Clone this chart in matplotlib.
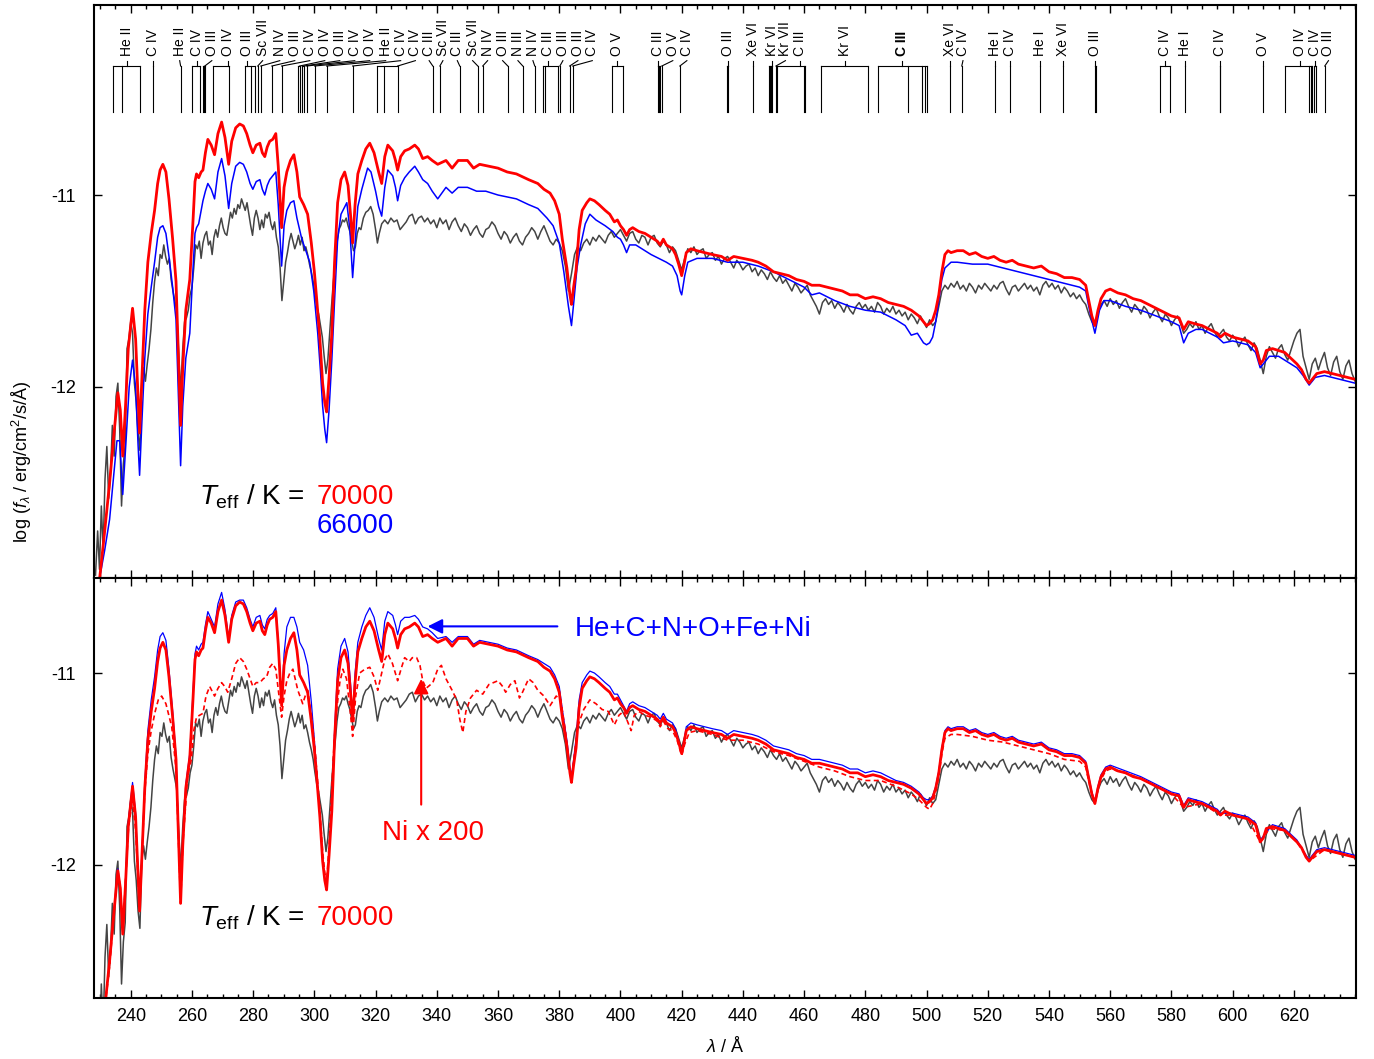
import matplotlib.pyplot as plt
from matplotlib.ticker import MultipleLocator, FixedLocator

plt.rcParams['font.family'] = ['Liberation Sans', 'DejaVu Sans']
plt.rcParams['mathtext.fontset'] = 'custom'
plt.rcParams['mathtext.rm'] = 'Liberation Sans'
plt.rcParams['mathtext.it'] = 'Liberation Sans:italic'
plt.rcParams['mathtext.bf'] = 'Liberation Sans:bold'
plt.rcParams['axes.unicode_minus'] = False

# observed EUV spectrum (wavelength / A, log flux)
obs = [
    (228.5, -12.98), (229.2, -12.75), (229.8, -12.95), (230.4, -12.62), (231.0, -12.85),
    (231.6, -12.48), (232.2, -12.31), (232.8, -12.58), (233.4, -12.45), (234.0, -12.20),
    (234.6, -12.36), (235.2, -12.05), (235.8, -11.98), (236.4, -12.22), (237.0, -12.62),
    (237.6, -12.40), (238.2, -12.30), (238.8, -11.80), (239.4, -11.75), (240.0, -11.66),
    (240.6, -11.72), (241.2, -11.98), (241.8, -12.08), (242.4, -12.24), (243.0, -12.33),
    (243.6, -11.98), (244.2, -11.90), (244.8, -11.97), (245.4, -11.88), (246.0, -11.80),
    (246.6, -11.70), (247.2, -11.56), (247.8, -11.45), (248.4, -11.38), (249.0, -11.42),
    (249.6, -11.31), (250.2, -11.33), (250.8, -11.26), (251.4, -11.32), (252.0, -11.36),
    (252.6, -11.33), (253.2, -11.44), (253.8, -11.50), (254.4, -11.55), (255.0, -11.60),
    (255.6, -11.80), (256.3, -12.03), (257.0, -11.80), (257.6, -11.66), (258.2, -11.64),
    (258.8, -11.60), (259.4, -11.52), (260.0, -11.48), (260.6, -11.38), (261.2, -11.26),
    (261.8, -11.28), (262.4, -11.24), (263.0, -11.33), (263.6, -11.25), (264.2, -11.21),
    (264.8, -11.19), (265.4, -11.26), (266.0, -11.24), (266.6, -11.31), (267.2, -11.22),
    (267.8, -11.18), (268.4, -11.22), (269.0, -11.16), (269.6, -11.12), (270.2, -11.17),
    (270.8, -11.20), (271.4, -11.21), (272.0, -11.15), (272.6, -11.09), (273.2, -11.12),
    (273.8, -11.07), (274.4, -11.10), (275.0, -11.05), (275.6, -11.07), (276.2, -11.02),
    (276.8, -11.05), (277.4, -11.08), (278.0, -11.04), (278.6, -11.10), (279.2, -11.16),
    (279.8, -11.21), (280.4, -11.12), (281.0, -11.08), (281.6, -11.12), (282.2, -11.18),
    (282.8, -11.13), (283.4, -11.17), (284.0, -11.10), (284.6, -11.12), (285.2, -11.09),
    (285.8, -11.15), (286.4, -11.18), (287.0, -11.14), (287.6, -11.22), (288.2, -11.27),
    (288.8, -11.38), (289.4, -11.55), (290.0, -11.45), (290.6, -11.35), (291.2, -11.30),
    (291.8, -11.24), (292.4, -11.20), (293.0, -11.24), (293.6, -11.28), (294.2, -11.25),
    (294.8, -11.21), (295.4, -11.26), (296.0, -11.22), (296.6, -11.29), (297.2, -11.27),
    (297.8, -11.31), (298.4, -11.36), (299.0, -11.40), (299.6, -11.45), (300.2, -11.52),
    (300.8, -11.58), (301.4, -11.62), (302.0, -11.68), (302.6, -11.74), (303.2, -11.84),
    (303.8, -11.93), (304.4, -11.86), (305.0, -11.72), (305.6, -11.58), (306.2, -11.45),
    (306.8, -11.36), (307.4, -11.25), (308.0, -11.18), (308.6, -11.16), (309.2, -11.13),
    (309.8, -11.14), (310.4, -11.12), (311.0, -11.16), (311.6, -11.19), (312.2, -11.24),
    (312.8, -11.29), (313.4, -11.27), (314.0, -11.20), (314.6, -11.17), (315.2, -11.18),
    (316.0, -11.12), (316.8, -11.09), (317.6, -11.08), (318.4, -11.06), (319.2, -11.10),
    (320.0, -11.18), (320.6, -11.25), (321.2, -11.20), (322.0, -11.15), (323.0, -11.13),
    (324.0, -11.15), (325.0, -11.12), (326.0, -11.14), (327.0, -11.13), (328.0, -11.18),
    (329.0, -11.16), (330.0, -11.14), (331.0, -11.11), (332.0, -11.10), (333.0, -11.15),
    (334.0, -11.12), (335.0, -11.11), (336.0, -11.14), (337.0, -11.12), (338.0, -11.15),
    (339.0, -11.13), (340.0, -11.17), (341.0, -11.12), (342.0, -11.15), (343.0, -11.13),
    (344.0, -11.18), (345.0, -11.14), (346.0, -11.12), (347.0, -11.16), (348.0, -11.19),
    (349.0, -11.15), (350.0, -11.17), (351.0, -11.21), (352.0, -11.18), (353.0, -11.16),
    (354.0, -11.20), (355.0, -11.22), (356.0, -11.18), (357.0, -11.17), (358.0, -11.14),
    (359.0, -11.16), (360.0, -11.20), (361.0, -11.23), (362.0, -11.19), (363.0, -11.21),
    (364.0, -11.25), (365.0, -11.22), (366.0, -11.20), (367.0, -11.24), (368.0, -11.26),
    (369.0, -11.22), (370.0, -11.20), (371.0, -11.17), (372.0, -11.19), (373.0, -11.23),
    (374.0, -11.19), (375.0, -11.16), (376.0, -11.20), (377.0, -11.24), (378.0, -11.26),
    (379.0, -11.23), (380.0, -11.25), (381.0, -11.29), (382.0, -11.37), (383.0, -11.50),
    (384.0, -11.41), (385.0, -11.31), (386.0, -11.27), (387.0, -11.29), (388.0, -11.25),
    (389.0, -11.23), (390.0, -11.26), (391.0, -11.22), (392.0, -11.24), (393.0, -11.21),
    (394.0, -11.23), (395.0, -11.25), (396.0, -11.21), (397.0, -11.19), (398.0, -11.22),
    (399.0, -11.20), (400.0, -11.18), (401.0, -11.21), (402.0, -11.24), (403.0, -11.20),
    (404.0, -11.19), (405.0, -11.23), (406.0, -11.25), (407.0, -11.21), (408.0, -11.22),
    (409.0, -11.26), (410.0, -11.22), (411.0, -11.21), (412.0, -11.25), (413.0, -11.27),
    (414.0, -11.24), (415.0, -11.26), (416.0, -11.30), (417.0, -11.27), (418.0, -11.29),
    (419.0, -11.34), (420.0, -11.39), (421.0, -11.33), (422.0, -11.28), (423.0, -11.30),
    (424.0, -11.27), (425.0, -11.31), (426.0, -11.29), (427.0, -11.28), (428.0, -11.33),
    (429.0, -11.31), (430.0, -11.30), (431.0, -11.34), (432.0, -11.32), (433.0, -11.36),
    (434.0, -11.33), (435.0, -11.32), (436.0, -11.35), (437.0, -11.38), (438.0, -11.34),
    (439.0, -11.36), (440.0, -11.39), (441.0, -11.37), (442.0, -11.36), (443.0, -11.40),
    (444.0, -11.38), (445.0, -11.42), (446.0, -11.39), (447.0, -11.41), (448.0, -11.44),
    (449.0, -11.40), (450.0, -11.43), (451.0, -11.45), (452.0, -11.42), (453.0, -11.46),
    (454.0, -11.44), (455.0, -11.47), (456.0, -11.50), (457.0, -11.46), (458.0, -11.48),
    (459.0, -11.51), (460.0, -11.49), (461.0, -11.47), (462.0, -11.52), (463.0, -11.55),
    (464.0, -11.58), (465.0, -11.62), (466.0, -11.56), (467.0, -11.54), (468.0, -11.57),
    (469.0, -11.55), (470.0, -11.59), (471.0, -11.56), (472.0, -11.58), (473.0, -11.61),
    (474.0, -11.57), (475.0, -11.60), (476.0, -11.62), (477.0, -11.58), (478.0, -11.56),
    (479.0, -11.59), (480.0, -11.57), (481.0, -11.60), (482.0, -11.58), (483.0, -11.61),
    (484.0, -11.56), (485.0, -11.58), (486.0, -11.62), (487.0, -11.59), (488.0, -11.61),
    (489.0, -11.58), (490.0, -11.62), (491.0, -11.60), (492.0, -11.63), (493.0, -11.61),
    (494.0, -11.65), (495.0, -11.62), (496.0, -11.64), (497.0, -11.67), (498.0, -11.63),
    (499.0, -11.66), (500.0, -11.69), (501.0, -11.65), (502.0, -11.68), (503.0, -11.66),
    (504.0, -11.58), (505.0, -11.50), (506.0, -11.47), (507.0, -11.49), (508.0, -11.46),
    (509.0, -11.48), (510.0, -11.45), (511.0, -11.49), (512.0, -11.47), (513.0, -11.50),
    (514.0, -11.46), (515.0, -11.48), (516.0, -11.51), (517.0, -11.47), (518.0, -11.49),
    (519.0, -11.46), (520.0, -11.48), (521.0, -11.50), (522.0, -11.47), (523.0, -11.49),
    (524.0, -11.46), (525.0, -11.45), (526.0, -11.49), (527.0, -11.52), (528.0, -11.48),
    (529.0, -11.47), (530.0, -11.50), (531.0, -11.48), (532.0, -11.46), (533.0, -11.49),
    (534.0, -11.47), (535.0, -11.50), (536.0, -11.48), (537.0, -11.52), (538.0, -11.47),
    (539.0, -11.45), (540.0, -11.48), (541.0, -11.46), (542.0, -11.49), (543.0, -11.47),
    (544.0, -11.51), (545.0, -11.48), (546.0, -11.50), (547.0, -11.53), (548.0, -11.51),
    (549.0, -11.54), (550.0, -11.52), (551.0, -11.55), (552.0, -11.57), (553.0, -11.62),
    (554.0, -11.66), (555.0, -11.68), (556.0, -11.61), (557.0, -11.57), (558.0, -11.55),
    (559.0, -11.58), (560.0, -11.54), (561.0, -11.57), (562.0, -11.55), (563.0, -11.59),
    (564.0, -11.56), (565.0, -11.54), (566.0, -11.58), (567.0, -11.61), (568.0, -11.57),
    (569.0, -11.59), (570.0, -11.62), (571.0, -11.58), (572.0, -11.60), (573.0, -11.64),
    (574.0, -11.61), (575.0, -11.59), (576.0, -11.63), (577.0, -11.66), (578.0, -11.62),
    (579.0, -11.64), (580.0, -11.68), (581.0, -11.65), (582.0, -11.63), (583.0, -11.67),
    (584.0, -11.72), (585.0, -11.70), (586.0, -11.67), (587.0, -11.69), (588.0, -11.66),
    (589.0, -11.70), (590.0, -11.68), (591.0, -11.72), (592.0, -11.69), (593.0, -11.67),
    (594.0, -11.71), (595.0, -11.74), (596.0, -11.72), (597.0, -11.70), (598.0, -11.74),
    (599.0, -11.76), (600.0, -11.73), (601.0, -11.75), (602.0, -11.79), (603.0, -11.76),
    (604.0, -11.74), (605.0, -11.78), (606.0, -11.81), (607.0, -11.77), (608.0, -11.80),
    (609.0, -11.86), (610.0, -11.93), (611.0, -11.84), (612.0, -11.79), (613.0, -11.82),
    (614.0, -11.85), (615.0, -11.80), (616.0, -11.78), (617.0, -11.83), (618.0, -11.86),
    (619.0, -11.81), (620.0, -11.76), (621.0, -11.72), (622.0, -11.70), (623.0, -11.84),
    (624.0, -11.90), (625.0, -11.96), (626.0, -11.88), (627.0, -11.85), (628.0, -11.91),
    (629.0, -11.86), (630.0, -11.82), (631.0, -11.90), (632.0, -11.94), (633.0, -11.87),
    (634.0, -11.84), (635.0, -11.92), (636.0, -11.96), (637.0, -11.89), (638.0, -11.86),
    (639.0, -11.93), (640.0, -11.97),
]

# model, Teff = 70000 K
t70 = [
    (229.9, -12.99), (231.5, -12.75), (233.1, -12.50), (234.5, -12.25), (235.8, -12.03),
    (236.6, -12.12), (237.4, -12.36), (238.3, -12.10), (239.2, -11.80), (240.6, -11.59),
    (241.6, -11.75), (242.4, -12.05), (242.9, -12.24), (243.6, -11.98), (244.6, -11.60),
    (245.6, -11.35), (246.7, -11.20), (247.8, -11.08), (248.8, -10.94), (249.6, -10.87),
    (250.5, -10.84), (251.5, -10.88), (252.5, -11.02), (253.7, -11.23), (254.8, -11.45),
    (255.6, -11.85), (256.3, -12.20), (257.0, -11.90), (258.0, -11.60), (259.3, -11.44),
    (260.3, -11.15), (261.0, -10.93), (261.5, -10.89), (262.2, -10.91), (263.0, -10.88),
    (263.6, -10.87), (264.4, -10.78), (265.2, -10.71), (266.3, -10.74), (267.4, -10.79),
    (268.5, -10.68), (269.7, -10.62), (270.8, -10.70), (272.0, -10.84), (273.0, -10.72),
    (274.3, -10.65), (275.6, -10.63), (276.8, -10.64), (277.9, -10.68), (279.0, -10.74),
    (279.9, -10.78), (281.0, -10.74), (282.2, -10.73), (283.0, -10.78), (283.8, -10.80),
    (284.6, -10.75), (285.4, -10.72), (286.4, -10.71), (287.4, -10.68), (288.2, -10.85),
    (289.3, -11.17), (290.1, -10.96), (291.0, -10.88), (292.2, -10.82), (293.3, -10.79),
    (294.3, -10.88), (295.2, -11.01), (296.5, -11.05), (297.8, -11.10), (299.0, -11.25),
    (300.0, -11.40), (300.8, -11.55), (301.8, -11.75), (302.7, -11.98), (303.4, -12.08),
    (304.0, -12.13), (304.8, -11.95), (305.7, -11.72), (306.6, -11.35), (307.6, -11.04),
    (308.7, -10.92), (309.9, -10.88), (311.0, -10.95), (311.8, -11.10), (312.5, -11.25),
    (313.3, -11.05), (314.2, -10.89), (315.5, -10.82), (316.8, -10.76), (318.1, -10.73),
    (319.5, -10.78), (321.0, -10.88), (322.0, -10.94), (323.0, -10.80), (324.0, -10.74),
    (325.6, -10.77), (326.5, -10.82), (327.2, -10.87), (328.2, -10.80), (329.5, -10.77),
    (331.0, -10.76), (332.8, -10.74), (334.0, -10.76), (335.4, -10.81), (337.0, -10.80),
    (338.5, -10.82), (340.3, -10.84), (343.0, -10.82), (345.0, -10.86), (347.0, -10.82),
    (350.0, -10.82), (352.0, -10.86), (354.0, -10.84), (357.0, -10.85), (360.0, -10.86),
    (363.0, -10.88), (366.0, -10.89), (370.0, -10.92), (373.0, -10.94), (375.0, -10.97),
    (377.0, -10.99), (378.5, -11.03), (380.0, -11.10), (381.0, -11.23), (382.5, -11.38),
    (383.5, -11.52), (384.0, -11.57), (384.7, -11.48), (385.5, -11.39), (386.5, -11.18),
    (387.5, -11.08), (389.0, -11.04), (390.0, -11.02), (391.5, -11.03), (393.0, -11.05),
    (395.0, -11.08), (396.5, -11.10), (398.0, -11.14), (399.0, -11.13), (400.0, -11.16),
    (401.0, -11.18), (402.0, -11.21), (403.0, -11.18), (404.0, -11.17), (406.0, -11.19),
    (408.0, -11.20), (410.0, -11.22), (412.0, -11.24), (413.0, -11.26), (414.0, -11.23),
    (415.0, -11.26), (417.0, -11.28), (418.0, -11.31), (419.0, -11.36), (420.0, -11.42),
    (420.8, -11.36), (421.5, -11.30), (423.0, -11.28), (425.0, -11.29), (427.5, -11.30),
    (430.0, -11.31), (433.0, -11.32), (435.0, -11.34), (437.0, -11.32), (440.0, -11.33),
    (443.0, -11.34), (445.0, -11.35), (447.5, -11.37), (450.0, -11.40), (452.5, -11.41),
    (455.0, -11.42), (457.5, -11.44), (460.0, -11.45), (462.5, -11.47), (465.0, -11.47),
    (467.5, -11.48), (470.0, -11.49), (472.5, -11.50), (475.0, -11.52), (477.5, -11.52),
    (480.0, -11.54), (482.5, -11.53), (485.0, -11.54), (487.5, -11.56), (490.0, -11.57),
    (492.5, -11.58), (495.0, -11.60), (497.5, -11.63), (499.0, -11.66), (500.0, -11.68),
    (501.0, -11.67), (502.0, -11.65), (503.0, -11.60), (504.0, -11.52), (505.0, -11.40),
    (506.0, -11.31), (507.0, -11.29), (508.0, -11.30), (510.0, -11.29), (512.0, -11.29),
    (514.0, -11.31), (516.0, -11.30), (518.0, -11.32), (520.0, -11.33), (522.0, -11.32),
    (524.0, -11.34), (526.0, -11.35), (528.0, -11.34), (530.0, -11.36), (532.5, -11.37),
    (535.0, -11.38), (537.5, -11.37), (540.0, -11.40), (542.5, -11.41), (545.0, -11.43),
    (547.5, -11.43), (550.0, -11.44), (552.0, -11.47), (553.0, -11.55), (554.0, -11.63),
    (555.0, -11.68), (556.0, -11.60), (557.0, -11.54), (558.5, -11.50), (560.0, -11.49),
    (562.5, -11.51), (565.0, -11.52), (567.5, -11.54), (570.0, -11.55), (572.5, -11.57),
    (575.0, -11.59), (577.5, -11.61), (580.0, -11.63), (582.5, -11.64), (584.0, -11.70),
    (585.5, -11.66), (587.5, -11.67), (590.0, -11.68), (592.5, -11.70), (595.0, -11.72),
    (596.0, -11.74), (597.5, -11.72), (600.0, -11.74), (602.5, -11.75), (605.0, -11.76),
    (607.5, -11.79), (609.0, -11.88), (610.0, -11.86), (611.0, -11.81), (613.0, -11.80),
    (615.0, -11.81), (617.0, -11.82), (619.0, -11.85), (621.0, -11.88), (622.5, -11.91),
    (624.0, -11.96), (625.0, -11.98), (626.0, -11.96), (627.5, -11.93), (630.0, -11.92),
    (632.5, -11.93), (635.0, -11.94), (637.5, -11.95), (640.0, -11.96),
]

# model, Teff = 66000 K
t66 = [
    (229.9, -12.99), (231.5, -12.85), (233.1, -12.69), (234.5, -12.45), (235.5, -12.28),
    (236.4, -12.28), (237.4, -12.56), (238.4, -12.30), (239.5, -12.00), (240.6, -11.86),
    (241.6, -12.00), (242.4, -12.30), (242.9, -12.46), (243.6, -12.20), (244.6, -11.85),
    (245.6, -11.62), (246.7, -11.48), (247.8, -11.35), (248.8, -11.22), (249.6, -11.17),
    (250.5, -11.16), (251.5, -11.20), (252.5, -11.32), (253.7, -11.48), (254.8, -11.65),
    (255.6, -12.05), (256.3, -12.41), (257.0, -12.10), (258.0, -11.85), (259.3, -11.72),
    (260.3, -11.40), (261.0, -11.20), (261.5, -11.17), (262.2, -11.15), (263.0, -11.08),
    (263.6, -11.03), (264.4, -10.98), (265.2, -10.94), (266.3, -10.97), (267.4, -11.02),
    (268.5, -10.88), (269.7, -10.81), (270.8, -10.90), (272.0, -11.07), (273.0, -10.94),
    (274.3, -10.85), (275.6, -10.83), (276.8, -10.84), (277.9, -10.88), (279.0, -10.94),
    (279.9, -10.97), (281.0, -10.93), (282.2, -10.92), (283.0, -10.97), (283.8, -11.00),
    (284.6, -10.95), (285.4, -10.92), (286.4, -10.90), (287.4, -10.88), (288.2, -11.05),
    (289.3, -11.37), (290.1, -11.16), (291.0, -11.08), (292.2, -11.04), (293.3, -11.03),
    (294.3, -11.12), (295.9, -11.23), (297.0, -11.28), (298.5, -11.35), (299.8, -11.50),
    (301.1, -11.72), (302.0, -11.92), (302.7, -12.10), (303.4, -12.22), (304.0, -12.29),
    (304.8, -12.12), (305.7, -11.86), (306.6, -11.55), (307.6, -11.23), (308.7, -11.10),
    (310.6, -11.04), (311.6, -11.18), (312.5, -11.43), (313.3, -11.25), (314.2, -11.06),
    (315.5, -10.97), (317.4, -10.86), (318.5, -10.88), (320.0, -10.98), (321.0, -11.06),
    (322.0, -11.11), (323.0, -10.96), (324.0, -10.87), (325.6, -10.90), (326.5, -10.96),
    (327.2, -11.03), (328.2, -10.95), (329.5, -10.91), (331.0, -10.88), (332.8, -10.85),
    (334.0, -10.88), (335.4, -10.92), (337.0, -10.94), (338.5, -10.98), (340.3, -11.02),
    (343.0, -10.96), (345.0, -10.99), (347.0, -10.96), (350.0, -10.96), (353.0, -10.98),
    (356.0, -10.98), (360.0, -11.00), (363.0, -11.01), (366.0, -11.02), (370.0, -11.05),
    (373.0, -11.07), (376.0, -11.12), (378.0, -11.16), (380.0, -11.25), (381.5, -11.40),
    (383.0, -11.58), (384.0, -11.68), (384.8, -11.55), (385.8, -11.38), (387.0, -11.26),
    (388.5, -11.15), (390.0, -11.10), (392.0, -11.13), (395.0, -11.16), (397.5, -11.19),
    (399.0, -11.22), (400.0, -11.23), (401.0, -11.26), (402.0, -11.30), (403.0, -11.26),
    (405.0, -11.26), (408.0, -11.29), (410.0, -11.31), (412.5, -11.33), (415.0, -11.35),
    (417.0, -11.37), (418.5, -11.42), (419.5, -11.50), (420.0, -11.52), (421.0, -11.42),
    (422.0, -11.35), (425.0, -11.33), (430.0, -11.33), (435.0, -11.35), (440.0, -11.35),
    (445.0, -11.37), (450.0, -11.40), (455.0, -11.44), (460.0, -11.48), (462.5, -11.52),
    (465.0, -11.51), (470.0, -11.55), (475.0, -11.58), (480.0, -11.60), (485.0, -11.61),
    (490.0, -11.65), (493.0, -11.68), (495.0, -11.73), (497.0, -11.72), (499.0, -11.77),
    (500.0, -11.78), (501.0, -11.77), (502.0, -11.74), (503.0, -11.66), (504.0, -11.55),
    (505.0, -11.44), (506.0, -11.38), (508.0, -11.35), (510.0, -11.35), (515.0, -11.36),
    (520.0, -11.36), (525.0, -11.38), (530.0, -11.40), (535.0, -11.42), (540.0, -11.44),
    (545.0, -11.46), (550.0, -11.48), (552.0, -11.50), (553.5, -11.62), (555.0, -11.72),
    (556.5, -11.60), (558.0, -11.55), (560.0, -11.55), (565.0, -11.58), (570.0, -11.60),
    (575.0, -11.63), (580.0, -11.66), (582.5, -11.68), (584.0, -11.77), (585.5, -11.72),
    (588.0, -11.70), (590.0, -11.70), (595.0, -11.74), (597.0, -11.77), (600.0, -11.76),
    (605.0, -11.78), (607.5, -11.82), (609.0, -11.90), (610.5, -11.87), (612.0, -11.84),
    (615.0, -11.84), (618.0, -11.87), (621.0, -11.90), (623.0, -11.94), (625.0, -11.99),
    (627.0, -11.95), (630.0, -11.94), (635.0, -11.96), (640.0, -11.98),
]

# model with He+C+N+O+Fe+Ni, Teff = 70000 K
full = [
    (229.9, -12.99), (231.5, -12.75), (233.1, -12.50), (234.5, -12.25), (235.8, -12.02),
    (236.6, -12.12), (237.4, -12.35), (238.3, -12.08), (239.2, -11.78), (240.6, -11.57),
    (241.6, -11.73), (242.4, -12.04), (242.9, -12.22), (243.6, -11.96), (244.6, -11.57),
    (245.6, -11.30), (246.7, -11.14), (247.8, -11.02), (248.8, -10.88), (249.6, -10.81),
    (250.5, -10.79), (251.5, -10.83), (252.5, -10.98), (253.7, -11.20), (254.8, -11.43),
    (255.6, -11.83), (256.3, -12.18), (257.0, -11.88), (258.0, -11.58), (259.3, -11.42),
    (260.3, -11.12), (261.0, -10.90), (261.5, -10.86), (262.2, -10.88), (263.0, -10.85),
    (263.6, -10.84), (264.4, -10.75), (265.2, -10.68), (266.3, -10.72), (267.4, -10.76),
    (268.5, -10.64), (269.7, -10.58), (270.8, -10.67), (272.0, -10.82), (273.0, -10.70),
    (274.3, -10.63), (275.6, -10.62), (276.8, -10.62), (277.9, -10.66), (279.0, -10.72),
    (279.9, -10.76), (281.0, -10.71), (282.2, -10.70), (283.0, -10.75), (283.8, -10.77),
    (284.6, -10.72), (285.4, -10.70), (286.4, -10.69), (287.4, -10.66), (288.2, -10.84),
    (289.3, -11.16), (290.1, -10.90), (291.0, -10.76), (292.2, -10.71), (293.3, -10.71),
    (294.3, -10.76), (295.2, -10.84), (296.5, -10.88), (297.8, -10.96), (299.0, -11.15),
    (300.0, -11.35), (300.8, -11.52), (301.8, -11.74), (302.7, -11.97), (303.4, -12.07),
    (304.0, -12.12), (304.8, -11.94), (305.7, -11.70), (306.6, -11.30), (307.6, -10.98),
    (308.7, -10.86), (309.9, -10.82), (311.0, -10.89), (311.8, -11.05), (312.5, -11.22),
    (313.3, -11.00), (314.2, -10.84), (315.5, -10.76), (316.8, -10.70), (318.1, -10.66),
    (319.5, -10.71), (321.0, -10.82), (322.0, -10.88), (323.0, -10.73), (324.0, -10.68),
    (325.6, -10.70), (326.5, -10.75), (327.2, -10.80), (328.2, -10.73), (329.5, -10.71),
    (331.0, -10.71), (332.8, -10.70), (334.0, -10.72), (335.4, -10.76), (337.0, -10.77),
    (338.5, -10.79), (340.3, -10.82), (343.0, -10.81), (345.0, -10.84), (347.0, -10.81),
    (350.0, -10.81), (352.0, -10.85), (354.0, -10.83), (357.0, -10.84), (360.0, -10.85),
    (363.0, -10.87), (366.0, -10.88), (370.0, -10.91), (373.0, -10.93), (375.0, -10.95),
    (377.0, -10.97), (378.5, -11.01), (380.0, -11.07), (381.0, -11.19), (382.5, -11.35),
    (383.5, -11.49), (384.0, -11.54), (384.7, -11.45), (385.5, -11.34), (386.5, -11.14),
    (387.5, -11.05), (389.0, -11.01), (390.0, -10.99), (391.5, -11.00), (393.0, -11.02),
    (395.0, -11.05), (396.5, -11.07), (398.0, -11.11), (399.0, -11.11), (400.0, -11.14),
    (401.0, -11.17), (402.0, -11.20), (403.0, -11.16), (404.0, -11.15), (406.0, -11.17),
    (408.0, -11.18), (410.0, -11.20), (412.0, -11.22), (413.0, -11.24), (414.0, -11.21),
    (415.0, -11.24), (417.0, -11.26), (418.0, -11.29), (419.0, -11.35), (420.0, -11.41),
    (420.8, -11.35), (421.5, -11.28), (423.0, -11.26), (425.0, -11.27), (427.5, -11.28),
    (430.0, -11.29), (433.0, -11.30), (435.0, -11.32), (437.0, -11.30), (440.0, -11.31),
    (443.0, -11.32), (445.0, -11.33), (447.5, -11.35), (450.0, -11.38), (452.5, -11.39),
    (455.0, -11.40), (457.5, -11.42), (460.0, -11.43), (462.5, -11.45), (465.0, -11.45),
    (467.5, -11.46), (470.0, -11.47), (472.5, -11.48), (475.0, -11.50), (477.5, -11.50),
    (480.0, -11.52), (482.5, -11.51), (485.0, -11.52), (487.5, -11.54), (490.0, -11.56),
    (492.5, -11.57), (495.0, -11.59), (497.5, -11.62), (499.0, -11.65), (500.0, -11.66),
    (501.0, -11.66), (502.0, -11.64), (503.0, -11.59), (504.0, -11.51), (505.0, -11.39),
    (506.0, -11.30), (507.0, -11.28), (508.0, -11.29), (510.0, -11.28), (512.0, -11.28),
    (514.0, -11.30), (516.0, -11.29), (518.0, -11.31), (520.0, -11.32), (522.0, -11.31),
    (524.0, -11.33), (526.0, -11.34), (528.0, -11.33), (530.0, -11.35), (532.5, -11.36),
    (535.0, -11.37), (537.5, -11.36), (540.0, -11.39), (542.5, -11.40), (545.0, -11.42),
    (547.5, -11.42), (550.0, -11.43), (552.0, -11.46), (553.0, -11.54), (554.0, -11.62),
    (555.0, -11.67), (556.0, -11.59), (557.0, -11.53), (558.5, -11.49), (560.0, -11.48),
    (565.0, -11.51), (570.0, -11.54), (575.0, -11.58), (580.0, -11.62), (582.5, -11.63),
    (584.0, -11.69), (585.5, -11.65), (590.0, -11.67), (595.0, -11.71), (596.0, -11.73),
    (600.0, -11.73), (605.0, -11.75), (607.5, -11.78), (609.0, -11.87), (610.0, -11.85),
    (613.0, -11.79), (617.0, -11.81), (621.0, -11.87), (624.0, -11.95), (625.0, -11.97),
    (627.5, -11.92), (630.0, -11.91), (635.0, -11.93), (640.0, -11.95),
]

# same model with Ni abundance x 200
ni200 = [
    (229.9, -12.99), (231.5, -12.75), (233.1, -12.53), (234.5, -12.25), (235.8, -12.03),
    (236.6, -12.12), (237.4, -12.34), (238.3, -12.08), (239.3, -11.80), (240.6, -11.66),
    (241.6, -11.82), (242.4, -12.08), (242.9, -12.23), (243.6, -11.98), (244.6, -11.62),
    (245.6, -11.42), (246.7, -11.30), (248.0, -11.20), (249.0, -11.14), (250.1, -11.12),
    (251.5, -11.16), (253.4, -11.28), (254.8, -11.50), (255.6, -11.88), (256.3, -12.20),
    (257.0, -11.90), (258.6, -11.54), (259.8, -11.45), (260.6, -11.30), (261.5, -11.23),
    (262.5, -11.22), (263.6, -11.21), (264.6, -11.12), (265.8, -11.07), (267.4, -11.12),
    (268.5, -11.08), (269.7, -11.05), (270.7, -11.07), (271.7, -11.10), (273.0, -11.03),
    (274.3, -10.95), (275.6, -10.92), (276.8, -10.94), (277.9, -10.98), (279.0, -11.03),
    (279.9, -11.07), (281.0, -11.05), (282.2, -11.05), (283.3, -11.03), (284.4, -11.02),
    (285.4, -10.97), (286.4, -10.95), (287.4, -10.98), (288.3, -11.10), (289.3, -11.23),
    (290.1, -11.12), (291.0, -11.04), (292.0, -11.00), (293.0, -10.98), (294.0, -11.05),
    (294.6, -11.09), (295.5, -11.13), (296.2, -11.16), (297.0, -11.12), (297.8, -11.09),
    (299.0, -11.22), (300.0, -11.36), (300.8, -11.51), (301.8, -11.72), (302.7, -11.93),
    (303.4, -12.04), (304.0, -12.09), (304.8, -11.90), (305.7, -11.60), (306.5, -11.35),
    (307.3, -11.19), (308.3, -11.05), (309.3, -10.98), (310.5, -11.03), (311.6, -11.18),
    (312.5, -11.33), (313.5, -11.12), (314.8, -11.00), (316.5, -10.98), (318.1, -10.97),
    (319.5, -11.02), (320.7, -11.09), (322.0, -11.00), (323.0, -10.93), (324.0, -10.90),
    (325.5, -10.95), (327.2, -11.04), (328.5, -10.97), (329.5, -10.92), (331.0, -10.94),
    (332.0, -10.92), (333.4, -10.92), (334.5, -10.96), (335.4, -11.04), (336.5, -11.08),
    (338.7, -11.05), (340.3, -10.98), (341.5, -10.96), (343.0, -11.03), (345.0, -11.09),
    (346.5, -11.14), (347.5, -11.24), (348.5, -11.31), (349.5, -11.20), (351.0, -11.13),
    (353.0, -11.09), (355.0, -11.11), (357.0, -11.06), (360.0, -11.04), (361.5, -11.07),
    (362.5, -11.10), (364.0, -11.06), (365.5, -11.04), (367.0, -11.13), (368.0, -11.10),
    (370.0, -11.03), (371.5, -11.05), (373.0, -11.09), (375.0, -11.12), (377.0, -11.17),
    (379.0, -11.12), (380.5, -11.14), (382.0, -11.30), (383.2, -11.48), (384.0, -11.55),
    (384.8, -11.45), (386.0, -11.28), (388.0, -11.19), (390.0, -11.14), (392.0, -11.16),
    (394.0, -11.19), (396.0, -11.20), (398.0, -11.27), (399.5, -11.22), (401.0, -11.20),
    (402.5, -11.26), (403.5, -11.30), (404.5, -11.22), (406.0, -11.20), (408.0, -11.22),
    (410.0, -11.23), (412.0, -11.25), (413.0, -11.28), (414.0, -11.25), (415.5, -11.29),
    (417.0, -11.30), (418.5, -11.35), (420.0, -11.43), (421.0, -11.37), (422.5, -11.31),
    (425.0, -11.30), (430.0, -11.32), (435.0, -11.35), (440.0, -11.35), (445.0, -11.37),
    (450.0, -11.41), (455.0, -11.43), (460.0, -11.46), (465.0, -11.49), (470.0, -11.51),
    (475.0, -11.54), (480.0, -11.56), (485.0, -11.56), (490.0, -11.59), (495.0, -11.63),
    (497.5, -11.66), (500.0, -11.70), (501.0, -11.71), (502.0, -11.68), (503.0, -11.62),
    (504.0, -11.54), (505.0, -11.42), (506.0, -11.34), (508.0, -11.32), (510.0, -11.32),
    (515.0, -11.33), (520.0, -11.35), (525.0, -11.36), (530.0, -11.38), (535.0, -11.40),
    (540.0, -11.42), (545.0, -11.45), (550.0, -11.46), (552.0, -11.49), (553.5, -11.60),
    (555.0, -11.68), (556.5, -11.57), (558.5, -11.51), (560.0, -11.50), (565.0, -11.52),
    (570.0, -11.55), (575.0, -11.59), (580.0, -11.63), (584.0, -11.70), (590.0, -11.68),
    (596.0, -11.74), (600.0, -11.74), (605.0, -11.76), (609.0, -11.88), (612.0, -11.81),
    (617.0, -11.82), (621.0, -11.88), (625.0, -11.98), (630.0, -11.92), (635.0, -11.94),
    (640.0, -11.96),
]

# line identifications: ion, label position and line wavelengths (A)
id_names = [
    'He II', 'C IV', 'He II', 'C IV', 'O III', 'O IV', 'O III', 'Sc VII', 'N IV', 'O III',
    'C IV', 'O IV', 'O III', 'C IV', 'O IV', 'He II', 'C IV', 'C IV', 'C III', 'Sc VII',
    'C III', 'Sc VII', 'N IV', 'O III', 'N III', 'N IV', 'C III', 'O III', 'O III', 'C IV',
    'O V', 'C III', 'O V', 'C IV', 'O III', 'Xe VI', 'Kr VI', 'Kr VII', 'C III', 'Kr VI',
    'C III', 'Xe VI', 'C IV', 'He I', 'C IV', 'He I', 'Xe VI', 'O III', 'C IV', 'He I',
    'C IV', 'O V', 'O IV', 'C IV', 'O III',
]
id_label_wave = [
    238.7, 247.2, 256.0, 261.6, 266.5, 271.7, 277.9, 283.1, 288.7, 293.6,
    298.5, 303.4, 308.3, 313.2, 318.1, 323.3, 328.2, 333.0, 337.5, 342.0,
    346.7, 351.7, 356.6, 361.5, 366.5, 371.4, 376.3, 381.2, 386.1, 390.8,
    398.8, 412.2, 417.1, 421.7, 435.1, 443.2, 449.4, 453.9, 458.6, 473.3,
    491.9, 507.6, 511.9, 522.3, 527.2, 537.0, 544.5, 555.0, 577.9, 584.4,
    595.8, 609.9, 622.0, 626.9, 631.3,
]
id_lines = [
    [234.1, 237.1, 242.9], [247.2], [256.3], [259.9, 262.6], [263.5, 263.9, 264.2],
    [266.8, 272.0], [277.3, 279.2, 280.5], [281.5], [282.5], [286.1],
    [289.3], [294.6, 295.2], [295.9, 296.5], [297.5], [300.1],
    [304.0], [312.5], [320.4, 322.7, 327.2], [338.7], [341.0],
    [347.5], [353.4], [355.0], [363.2], [368.1],
    [372.0], [374.6, 375.3, 379.5], [380.2], [383.4], [384.4],
    [397.2, 400.8], [412.2, 412.5, 412.85], [413.5], [419.4], [434.7, 435.1],
    [443.2], [448.5, 448.8, 449.1, 449.5], [450.8], [451.1, 460.0, 460.2], [465.45, 480.8],
    [484.1, 493.9, 498.5, 499.4, 500.1], [507.6], [511.5], [522.3], [527.2],
    [537.0], [544.5], [555.0, 555.2], [576.2, 579.5], [584.4],
    [595.8, 595.9], [609.9], [617.1, 624.9, 625.5, 625.9], [626.5, 627.2], [630.1],
]

teff_hot = '70000'
teff_cool = '66000'


def unzip(pairs):
    return [p[0] for p in pairs], [p[1] for p in pairs]


def style_axes(ax):
    ax.set_xlim(228.0, 640.3)
    ax.xaxis.set_major_locator(FixedLocator(range(240, 621, 20)))
    ax.xaxis.set_minor_locator(MultipleLocator(5))
    ax.set_yticks([-12, -11])
    ax.tick_params(which='both', direction='in', top=True, right=True, width=1.0, labelsize=13)
    ax.tick_params(which='major', length=6)
    ax.tick_params(which='minor', length=3)
    ax.tick_params(axis='y', pad=13)
    ax.tick_params(axis='x', pad=7)
    for s in ax.spines.values():
        s.set_linewidth(1.5)


obs_w, obs_f = unzip(obs)
t70_w, t70_f = unzip(t70)
t66_w, t66_f = unzip(t66)
full_w, full_f = unzip(full)
ni_w, ni_f = unzip(ni200)

fig = plt.figure(figsize=(13.74, 10.59), dpi=100)
ax1 = fig.add_axes([0.0684, 0.4542, 0.9185, 0.5411])
ax2 = fig.add_axes([0.0684, 0.0576, 0.9185, 0.3966], sharex=ax1)

gray = '#444444'

# upper panel: two temperatures
ax1.plot(obs_w, obs_f, color=gray, lw=1.1)
ax1.plot(t66_w, t66_f, color='blue', lw=1.1)
ax1.plot(t70_w, t70_f, color='red', lw=2.0)
ax1.set_ylim(-12.995, -10.01)
style_axes(ax1)
ax1.tick_params(labelbottom=False)

# line identification marks
y_txt, y_top, y_bar, y_bot = -10.276, -10.300, -10.328, -10.568
for name, lab, lines in zip(id_names, id_label_wave, id_lines):
    weight = 'bold' if (name == 'C III' and lab > 490) else 'normal'
    ax1.text(lab, y_txt, name, rotation=90, ha='center', va='bottom',
             fontsize=10, fontweight=weight)
    lo, hi = min(lines), max(lines)
    anchor = min(max(lab, lo), hi)
    ax1.plot([lab, anchor], [y_top, y_bar], color='black', lw=0.8)
    if hi > lo:
        ax1.plot([lo, hi], [y_bar, y_bar], color='black', lw=0.8)
    for w in lines:
        ax1.plot([w, w], [y_bar, y_bot], color='black', lw=0.8)

ax1.text(297.2, -12.573, r'$T_{\rm eff}$ / K = ', ha='right', va='center', fontsize=20)
ax1.text(300.8, -12.573, teff_hot, color='red', ha='left', va='center', fontsize=20)
ax1.text(300.8, -12.724, teff_cool, color='blue', ha='left', va='center', fontsize=20)

# lower panel: abundance test
ax2.plot(obs_w, obs_f, color=gray, lw=1.1)
ax2.plot(full_w, full_f, color='blue', lw=0.9)
ax2.plot(ni_w, ni_f, color='red', lw=1.2, ls=(0, (3, 2)))
ax2.plot(t70_w, t70_f, color='red', lw=2.0)
ax2.set_ylim(-12.693, -10.505)
style_axes(ax2)

ax2.annotate('', xy=(336.1, -10.757), xytext=(380.3, -10.757),
             arrowprops=dict(arrowstyle='-|>', color='blue', lw=1.5, mutation_scale=22))
ax2.text(385.1, -10.772, 'He+C+N+O+Fe+Ni', color='blue', ha='left', va='center', fontsize=20)
ax2.annotate('', xy=(334.9, -11.016), xytext=(334.9, -11.70),
             arrowprops=dict(arrowstyle='-|>', color='red', lw=1.5, mutation_scale=22))
ax2.text(338.7, -11.835, 'Ni x 200', color='red', ha='center', va='center', fontsize=20)

ax2.text(297.2, -12.276, r'$T_{\rm eff}$ / K = ', ha='right', va='center', fontsize=20)
ax2.text(300.8, -12.276, teff_hot, color='red', ha='left', va='center', fontsize=20)

ax2.set_xlabel(r'$\lambda$ / Å', fontsize=13, labelpad=8)
fig.text(22 / 1374, 1 - 462 / 1059, r'log ($f_\lambda$ / erg/cm$^2$/s/Å)',
         rotation=90, ha='center', va='center', fontsize=13)

fig.savefig('out.png', dpi=100)
